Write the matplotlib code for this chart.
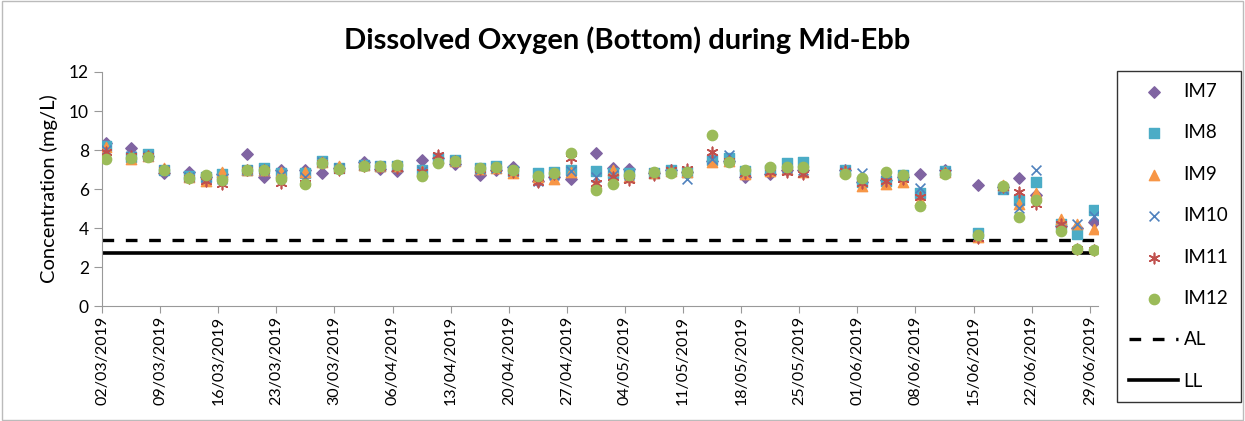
import pandas as pd
import matplotlib
matplotlib.use("Agg")
import matplotlib.pyplot as plt
import matplotlib.dates as mdates
from matplotlib.patches import Rectangle

plt.rcParams['font.family'] = ['Lato', 'DejaVu Sans']

dates = ["02/03/2019", "05/03/2019", "07/03/2019", "09/03/2019", "12/03/2019", "14/03/2019",
         "16/03/2019", "19/03/2019", "21/03/2019", "23/03/2019", "26/03/2019", "28/03/2019",
         "30/03/2019", "02/04/2019", "04/04/2019", "06/04/2019", "09/04/2019", "11/04/2019",
         "13/04/2019", "16/04/2019", "18/04/2019", "20/04/2019", "23/04/2019", "25/04/2019",
         "27/04/2019", "30/04/2019", "02/05/2019", "04/05/2019", "07/05/2019", "09/05/2019",
         "11/05/2019", "14/05/2019", "16/05/2019", "18/05/2019", "21/05/2019", "23/05/2019",
         "25/05/2019", "30/05/2019", "01/06/2019", "04/06/2019", "06/06/2019", "08/06/2019",
         "11/06/2019", "15/06/2019", "18/06/2019", "20/06/2019", "22/06/2019", "25/06/2019",
         "27/06/2019", "29/06/2019"]

im7 = [8.35, 8.1, 7.7, 6.8, 6.85, 6.6, 6.75, 7.8, 6.6, 7.0, 7.0, 6.8, 7.1, 7.4, 7.05, 6.9, 7.5, 7.6,
       7.3, 6.7, 6.95, 7.15, 6.4, 6.6, 6.5, 7.85, 7.1, 7.05, 6.8, 7.0, 6.85, 7.45, 7.45, 6.6, 6.75,
       7.0, 7.0, 7.0, 6.35, 6.45, 6.6, 6.75, 6.95, 6.2, 6.1, 6.55, 5.7, 4.1, 4.0, 4.3]
im8 = [8.2, 7.65, 7.8, 6.95, 6.65, 6.6, 6.75, 6.95, 7.1, 6.8, 6.8, 7.45, 7.1, 7.25, 7.2, 7.2, 6.95, 7.6,
       7.5, 7.1, 7.2, 6.9, 6.8, 6.85, 7.0, 6.9, 6.8, 6.8, 6.8, 6.95, 6.85, 7.5, 7.6, 6.9, 7.0,
       7.35, 7.4, 6.95, 6.35, 6.4, 6.7, 5.8, 6.9, 3.75, 6.0, 5.45, 6.35, 4.2, 3.7, 4.95]
im9 = [8.15, 7.55, 7.7, 7.1, 6.6, 6.4, 6.85, 6.95, 7.0, 6.85, 6.85, 7.4, 7.2, 7.25, 7.2, 7.2, 6.9, 7.6,
       7.45, 7.05, 7.1, 6.8, 6.6, 6.5, 6.85, 6.3, 6.95, 6.6, 6.8, 6.9, 6.85, 7.4, 7.45, 6.75, 6.9,
       7.05, 6.85, 6.9, 6.15, 6.25, 6.35, 5.45, 6.85, 3.55, 6.2, 5.25, 5.8, 4.45, 4.2, 3.95]
im10 = [8.0, 7.7, 7.7, 6.95, 6.6, 6.6, 6.5, 6.95, 7.0, 6.7, 6.6, 7.4, 7.1, 7.25, 7.2, 7.2, 6.9, 7.65,
        7.45, 7.05, 7.1, 6.9, 6.4, 6.7, 6.9, 6.6, 6.7, 6.7, 6.8, 6.9, 6.5, 7.55, 7.75, 6.85, 6.95,
        7.1, 7.0, 6.9, 6.8, 6.45, 6.6, 6.05, 6.85, 3.6, 6.0, 5.05, 7.0, 4.1, 4.2, 4.6]
im11 = [7.9, 7.7, 7.7, 7.0, 6.55, 6.4, 6.25, 6.95, 7.0, 6.3, 6.3, 7.35, 7.0, 7.2, 7.15, 7.1, 6.85, 7.75,
        7.45, 7.05, 7.1, 6.85, 6.35, 6.75, 7.6, 6.3, 6.6, 6.45, 6.7, 7.0, 7.05, 7.9, 7.45, 6.8, 6.85,
        6.85, 6.75, 6.9, 6.3, 6.4, 6.5, 5.6, 6.8, 3.5, 6.1, 5.85, 5.25, 4.2, 2.9, 2.85]
im12 = [7.55, 7.6, 7.65, 7.0, 6.55, 6.7, 6.45, 6.95, 6.95, 6.5, 6.25, 7.35, 7.05, 7.2, 7.2, 7.25, 6.65, 7.35,
        7.45, 7.1, 7.15, 6.95, 6.65, 6.8, 7.85, 5.95, 6.25, 6.7, 6.85, 6.8, 6.85, 8.75, 7.4, 7.0, 7.15,
        7.15, 7.15, 6.75, 6.55, 6.85, 6.7, 5.15, 6.75, 3.65, 6.15, 4.55, 5.45, 3.85, 2.95, 2.85]

al = 3.4
ll = 2.7

x = pd.to_datetime(dates, format="%d/%m/%Y") + pd.Timedelta(hours=12)

fig = plt.figure(figsize=(12.45, 4.21), dpi=100)
ax = fig.add_axes([0.082, 0.273, 0.8, 0.556])

ax.scatter(x, im7, marker="D", s=34, color="#8064A2", label="IM7", zorder=3)
ax.scatter(x, im8, marker="s", s=48, color="#4BACC6", label="IM8", zorder=3)
ax.scatter(x, im9, marker="^", s=55, color="#F79646", label="IM9", zorder=3)
ax.scatter(x, im10, marker="x", s=50, color="#4F81BD", linewidths=1.2, label="IM10", zorder=3)
ax.scatter(x, im11, marker=(6, 2, 0), s=55, color="#C0504D", linewidths=1.2, label="IM11", zorder=3)
ax.scatter(x, im12, marker="o", s=55, color="#9BBB59", label="IM12", zorder=3)
ax.axhline(al, color="black", lw=2.4, ls=(0, (3.5, 3.5)), label="AL", zorder=2)
ax.axhline(ll, color="black", lw=2.6, label="LL", zorder=2)

start = pd.Timestamp("2019-03-02")
ticks = pd.date_range(start, "2019-06-29", freq="7D")
ax.set_xlim(start, pd.Timestamp("2019-06-30"))
ax.set_xticks(ticks)
ax.xaxis.set_major_formatter(mdates.DateFormatter("%d/%m/%Y"))
plt.setp(ax.get_xticklabels(), rotation=90, fontsize=11.5)
ax.set_ylim(0, 12)
ax.set_yticks(range(0, 13, 2))
ax.tick_params(axis="y", labelsize=12.5, length=6, color="#999999")
ax.tick_params(axis="x", length=5, pad=2, color="#999999")
for s in ["top", "right"]:
    ax.spines[s].set_visible(False)
for s in ["left", "bottom"]:
    ax.spines[s].set_color("#999999")

ax.set_ylabel("Concentration (mg/L)", fontsize=14.5, labelpad=8)
fig.text(0.504, 0.905, "Dissolved Oxygen (Bottom) during Mid-Ebb", ha="center", va="center",
         fontsize=21, fontweight="bold")

leg = ax.legend(loc="upper left", bbox_to_anchor=(1.019, 1.005), frameon=True, fancybox=False,
                edgecolor="black", fontsize=13.5, labelspacing=1.3, handlelength=2.6,
                borderpad=0.65, handletextpad=0.3, borderaxespad=0)
leg.get_frame().set_linewidth(1.0)

fig.add_artist(Rectangle((0.002, 0.003), 0.996, 0.994, transform=fig.transFigure,
                         fill=False, edgecolor="#BBBBBB", lw=1))

fig.savefig("out.png", dpi=100)
